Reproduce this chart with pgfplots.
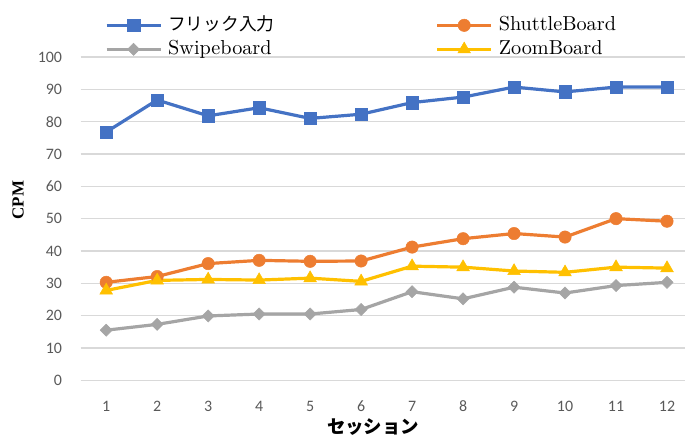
\documentclass[border=0pt]{standalone}
\usepackage{pgfplots}
\pgfplotsset{compat=1.18}
\usepackage{fontspec}
\newfontfamily\jpfont{Noto Sans CJK JP}
\newfontfamily\tickfont{Carlito}
\newfontfamily\titlefont{Liberation Serif}

\definecolor{cblue}{HTML}{4472C4}
\definecolor{corange}{HTML}{ED7D31}
\definecolor{cgrey}{HTML}{A5A5A5}
\definecolor{cyellow}{HTML}{FFC000}
\definecolor{cgrid}{HTML}{D9D9D9}
\definecolor{ctick}{HTML}{595959}

% Latin legend text, enlarged from the 10pt design size
\newcommand{\legtext}[1]{\scalebox{2.03}{#1}}

\begin{document}
\begin{tikzpicture}
\useasboundingbox (0,0) rectangle (685bp,436bp);
\begin{axis}[
  name=main,
  at={(80.7bp,55.7bp)}, anchor=south west,
  scale only axis, width=611.8bp, height=323.3bp,
  xmin=0.5, xmax=12.5, ymin=0, ymax=100,
  xtick={1,...,12}, ytick={0,10,...,100},
  axis line style={draw=none},
  major tick length=0pt,
  ymajorgrids, grid style={cgrid, line width=1.4bp},
  tick label style={font=\fontsize{16}{18}\selectfont\tickfont, text=ctick},
  /pgf/number format/assume math mode=true,
  yticklabel style={inner sep=0pt, anchor=east, xshift=-18.5bp},
  xticklabel style={inner sep=0pt, anchor=north, yshift=-20.5bp},
  xlabel={\fontsize{18.5}{20}\selectfont\jpfont\bfseries セッション},
  xlabel style={at={(axis description cs:0.478,-0.145)}, anchor=center, inner sep=0pt},
  legend columns=2,
  legend cell align=left,
  legend style={at={(axis description cs:0.0397,1.125)}, anchor=north west,
    draw=none, fill=none, inner sep=0pt, outer sep=0pt,
    font=\fontsize{10}{12}\selectfont, row sep=6.5bp,
    nodes={inner ysep=0pt, inner xsep=6bp, text height=13.5bp, text depth=4bp},
    /tikz/every even column/.append style={column sep=155bp}},
  legend image code/.code={\draw[mark repeat=2, mark phase=2, #1]
    plot coordinates {(0bp,0bp) (27bp,0bp) (54bp,0bp)};},
  every axis plot/.append style={line width=3.2bp},
]
% Flick input
\addplot[cblue, mark=square*, mark size=6.2bp, mark options={solid, fill=cblue, draw=cblue, line width=0.5bp}]
  coordinates {(1,76.8) (2,86.7) (3,81.8) (4,84.3) (5,81.0) (6,82.3) (7,85.9) (8,87.6) (9,90.7) (10,89.2) (11,90.7) (12,90.7)};
\addlegendentry{{\jpfont\fontsize{17.8}{20}\selectfont フリック入力}}
% ShuttleBoard
\addplot[corange, mark=*, mark size=6.2bp, mark options={solid, fill=corange, draw=corange, line width=0.5bp}]
  coordinates {(1,30.3) (2,32.1) (3,36.1) (4,37.1) (5,36.8) (6,36.9) (7,41.2) (8,43.8) (9,45.4) (10,44.3) (11,50.0) (12,49.2)};
\addlegendentry{\legtext{ShuttleBoard}}
% Swipeboard
\addplot[cgrey, mark=square*, mark size=4.3bp, mark options={solid, rotate=45, fill=cgrey, draw=cgrey, line width=0.5bp}]
  coordinates {(1,15.5) (2,17.3) (3,19.9) (4,20.5) (5,20.5) (6,21.9) (7,27.4) (8,25.2) (9,28.8) (10,27.0) (11,29.3) (12,30.3)};
\addlegendentry{\legtext{Swipeboard}}
% ZoomBoard
\addplot[cyellow, mark=triangle*, mark size=7.3bp, mark options={solid, fill=cyellow, draw=cyellow, line width=0.5bp}]
  coordinates {(1,27.8) (2,30.9) (3,31.2) (4,31.0) (5,31.6) (6,30.6) (7,35.3) (8,35.0) (9,33.8) (10,33.4) (11,35.0) (12,34.7)};
\addlegendentry{\legtext{ZoomBoard}}
\end{axis}
% vertical axis title
\node[rotate=90, inner sep=0pt] at (18bp,236bp) {\fontsize{17}{20}\selectfont\titlefont\bfseries CPM};
\end{tikzpicture}
\end{document}
